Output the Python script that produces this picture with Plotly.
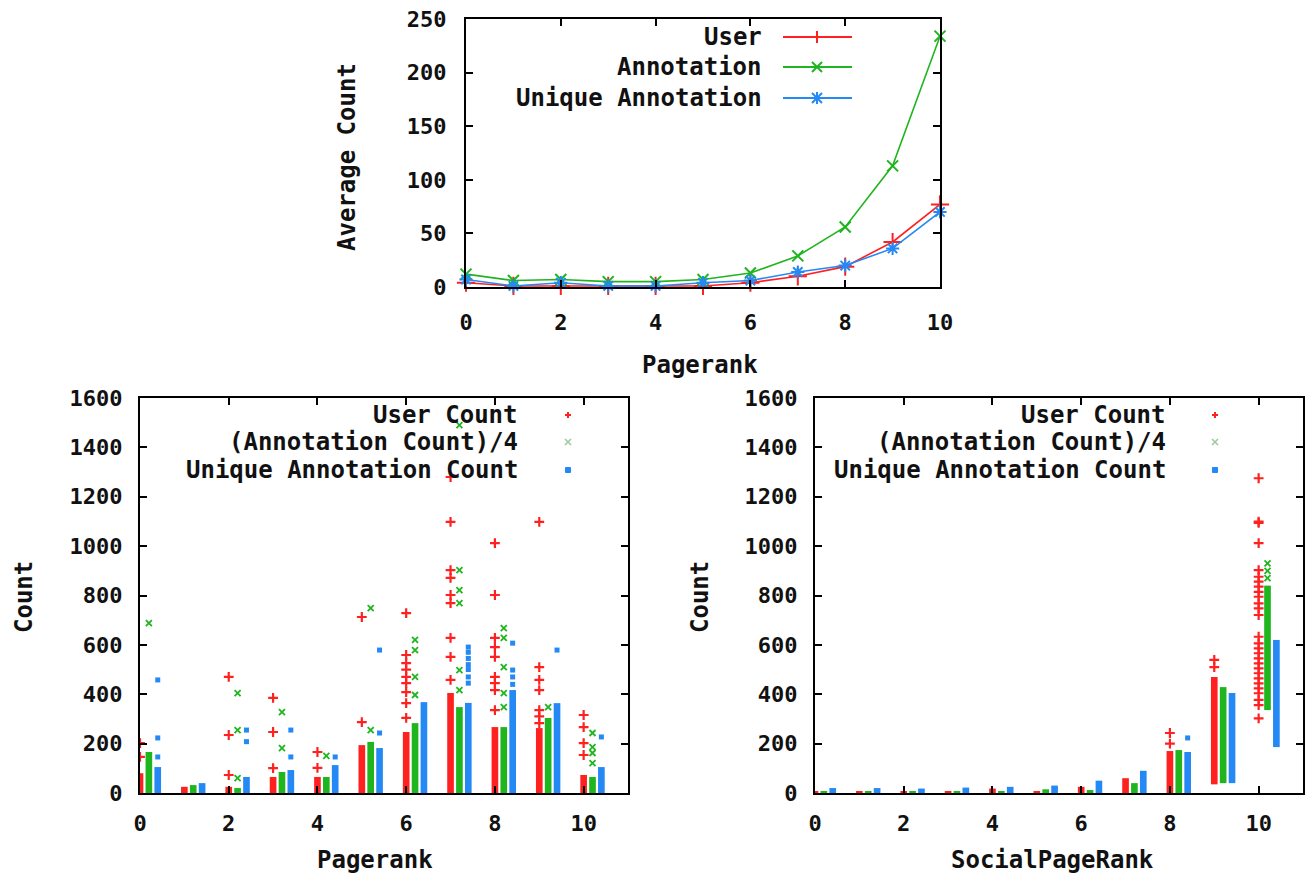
import plotly.graph_objects as go

# ---------------- data ----------------
ranks = [0, 1, 2, 3, 4, 5, 6, 7, 8, 9, 10]
x_ticks = [0, 2, 4, 6, 8, 10]

# top panel: average counts per pagerank
avg_user = [4, 1, 1, 1, 1, 1, 4, 10, 19, 42, 77]
avg_annotation = [12, 6, 7, 5, 5, 7, 13, 29, 56, 113, 234]
avg_unique = [7, 1, 4, 1, 1, 4, 6, 14, 20, 36, 70]

# bottom-left panel (Pagerank): dense column tops (points merge into solid columns from 0)
pr_user_dense = [80, 25, 25, 65, 65, 194, 247, 405, 267, 263, 73]
pr_ann_dense = [166, 32, 20, 85, 65, 207, 283, 348, 267, 304, 65]
pr_uniq_dense = [105, 40, 65, 93, 113, 182, 368, 365, 417, 364, 105]
# isolated points per pagerank
pr_user_pts = [[146, 202], [], [73, 235, 470], [101, 247, 385], [102, 166], [287, 713],
               [304, 364, 409, 445, 470, 500, 526, 559, 729],
               [458, 551, 628, 769, 802, 871, 903, 1098, 1280],
               [336, 417, 445, 470, 551, 591, 628, 802, 1012],
               [283, 310, 336, 417, 458, 510, 1098], [154, 202, 267, 316]]
pr_ann_pts = [[688], [], [60, 255, 405], [182, 328], [150], [255, 749],
              [397, 470, 579, 620], [417, 498, 769, 822, 903, 1490],
              [348, 405, 510, 628, 668], [348], [121, 162, 186, 243]]
pr_uniq_pts = [[146, 223, 458], [], [208, 255], [146, 255], [146], [243, 579], [],
               [445, 470, 500, 520, 545, 570, 591], [440, 470, 498, 607], [579], [227]]

# bottom-right panel (SocialPageRank): dense column ranges (low, high)
spr_user_lo = [0, 0, 0, 0, 0, 0, 0, 0, 0, 35, None]
spr_user_hi = [5, 5, 8, 5, 18, 8, 25, 60, 170, 470, None]
spr_ann_lo = [0, 0, 0, 0, 0, 0, 0, 0, 0, 40, 336]
spr_ann_hi = [8, 8, 5, 6, 8, 15, 12, 40, 174, 429, 840]
spr_uniq_lo = [0, 0, 0, 0, 0, 0, 0, 0, 0, 40, 186]
spr_uniq_hi = [20, 20, 18, 22, 25, 30, 50, 90, 166, 405, 620]
spr_user_pts = [[], [], [], [], [], [], [], [], [200, 243], [510, 539],
                [302, 356, 377, 404, 424, 444, 464, 485, 505, 525, 545, 566, 586, 606, 633,
                 721, 748, 768, 795, 815, 836, 856, 876, 903, 1012, 1094, 1099, 1275]]
spr_ann_pts = [[], [], [], [], [], [], [], [], [], [], [870, 900, 930]]
spr_uniq_pts = [[], [], [], [], [], [], [], [], [223], [], []]

# ---------------- style ----------------
RED = "#ff2020"
GREEN = "#1fb51f"
BLUE = "#2488f5"
FONT = "DejaVu Sans Mono"
TXT = "#111111"
W, H = 1309, 876

fig = go.Figure()

# top panel lines
fig.add_trace(go.Scatter(x=ranks, y=avg_user, mode="lines+markers", name="User",
                         line=dict(color=RED, width=1.6), cliponaxis=False,
                         marker=dict(symbol="cross-thin", size=13, line=dict(color=RED, width=2)),
                         xaxis="x", yaxis="y", showlegend=False))
fig.add_trace(go.Scatter(x=ranks, y=avg_annotation, mode="lines+markers", name="Annotation",
                         line=dict(color=GREEN, width=1.6), cliponaxis=False,
                         marker=dict(symbol="x-thin", size=11, line=dict(color=GREEN, width=2)),
                         xaxis="x", yaxis="y", showlegend=False))
fig.add_trace(go.Scatter(x=ranks, y=avg_unique, mode="lines+markers", name="Unique Annotation",
                         line=dict(color=BLUE, width=1.6), cliponaxis=False,
                         marker=dict(symbol="asterisk", size=11, line=dict(color=BLUE, width=2)),
                         xaxis="x", yaxis="y", showlegend=False))


def flatten(pts, offset):
    xs, ys = [], []
    for r, vals in zip(ranks, pts):
        for v in vals:
            xs.append(r + offset)
            ys.append(v)
    return xs, ys


series_styles = [
    (RED, 0.0, dict(symbol="cross-thin", size=7, line=dict(color=RED, width=2.2))),
    (GREEN, 0.2, dict(symbol="x-thin", size=6, line=dict(color=GREEN, width=1.8))),
    (BLUE, 0.4, dict(symbol="square", size=5, color=BLUE, line=dict(width=0))),
]

# bottom-left panel
for (col, off, mk), dense, pts in zip(series_styles,
                                      [pr_user_dense, pr_ann_dense, pr_uniq_dense],
                                      [pr_user_pts, pr_ann_pts, pr_uniq_pts]):
    fig.add_trace(go.Bar(x=[r + off for r in ranks], y=dense, base=[0] * len(ranks),
                         width=0.15, marker=dict(color=col, line=dict(width=0)),
                         xaxis="x2", yaxis="y2", showlegend=False))
    xs, ys = flatten(pts, off)
    fig.add_trace(go.Scatter(x=xs, y=ys, mode="markers", marker=mk,
                             xaxis="x2", yaxis="y2", showlegend=False))

# bottom-right panel
for (col, off, mk), lo, hi, pts in zip(series_styles,
                                       [spr_user_lo, spr_ann_lo, spr_uniq_lo],
                                       [spr_user_hi, spr_ann_hi, spr_uniq_hi],
                                       [spr_user_pts, spr_ann_pts, spr_uniq_pts]):
    heights = [None if (a is None or b is None) else b - a for a, b in zip(lo, hi)]
    fig.add_trace(go.Bar(x=[r + off for r in ranks], y=heights, base=lo,
                         width=0.15, marker=dict(color=col, line=dict(width=0)),
                         xaxis="x3", yaxis="y3", showlegend=False))
    xs, ys = flatten(pts, off)
    fig.add_trace(go.Scatter(x=xs, y=ys, mode="markers", marker=mk,
                             xaxis="x3", yaxis="y3", showlegend=False))


def px_x(p):
    return p / W


def px_y(p):
    return 1 - p / H


tick_font = dict(family=FONT, size=22, color=TXT, weight="bold")
axis_common = dict(showline=True, linecolor="#000000", linewidth=2, mirror="ticks",
                   ticks="inside", ticklen=7, tickwidth=1.5, tickcolor="#000000",
                   showgrid=False, zeroline=False, tickfont=tick_font, fixedrange=True,
                   automargin=False)

fig.update_layout(
    width=W, height=H, margin=dict(l=0, r=0, t=0, b=0, autoexpand=False),
    paper_bgcolor="white", plot_bgcolor="white", barmode="overlay",
    xaxis=dict(domain=[px_x(466), px_x(940)], anchor="y", range=[0, 10],
               tickvals=x_ticks, ticklabelstandoff=15, **axis_common),
    yaxis=dict(domain=[px_y(287), px_y(19)], anchor="x", range=[0, 250], dtick=50,
               ticklabelstandoff=13, **axis_common),
    xaxis2=dict(domain=[px_x(140), px_x(628)], anchor="y2", range=[0, 11],
                tickvals=x_ticks, ticklabelstandoff=10, **axis_common),
    yaxis2=dict(domain=[px_y(793), px_y(398)], anchor="x2", range=[0, 1600], dtick=200,
                ticklabelstandoff=11, **axis_common),
    xaxis3=dict(domain=[px_x(815), px_x(1303)], anchor="y3", range=[0, 11],
                tickvals=x_ticks, ticklabelstandoff=10, **axis_common),
    yaxis3=dict(domain=[px_y(793), px_y(398)], anchor="x3", range=[0, 1600], dtick=200,
                ticklabelstandoff=11, **axis_common),
)

title_font = dict(family=FONT, size=24, color=TXT, weight="bold")
annotations = []


def text(t, x, y, xanchor="center", angle=0, font=title_font):
    annotations.append(dict(text=t, x=px_x(x), y=px_y(y), xref="paper", yref="paper",
                            xanchor=xanchor, yanchor="middle", showarrow=False,
                            textangle=angle, font=font))


# axis titles
text("Average Count", 347, 157, angle=-90)
text("Pagerank", 700, 365)
text("Count", 24, 597, angle=-90)
text("Count", 700, 597, angle=-90)
text("Pagerank", 375, 860)
text("SocialPageRank", 1052, 860)

# legend texts
top_legend = ["User", "Annotation", "Unique Annotation"]
top_rows = [37, 67, 98]
for t, yy in zip(top_legend, top_rows):
    text(t, 764, yy, xanchor="right")

bottom_legend = ["User Count", "(Annotation Count)/4", "Unique Annotation Count"]
bottom_rows = [415, 442, 470]
for t, yy in zip(bottom_legend, bottom_rows):
    text(t, 520, yy, xanchor="right")
    text(t, 1168, yy, xanchor="right")

shapes = []


def key_line(x0, x1, y, color):
    shapes.append(dict(type="line", xref="paper", yref="paper", x0=px_x(x0), x1=px_x(x1),
                       y0=px_y(y), y1=px_y(y), line=dict(color=color, width=2)))


def key_glyph(cx, cy, path, color, fill=None, width=2):
    shapes.append(dict(type="path", xref="paper", yref="paper", xsizemode="pixel",
                       ysizemode="pixel", xanchor=px_x(cx), yanchor=px_y(cy), path=path,
                       line=dict(color=color, width=width),
                       fillcolor=fill if fill else "rgba(0,0,0,0)"))


PLUS = "M-6,0 L6,0 M0,-6 L0,6"
CROSS = "M-5,-5 L5,5 M-5,5 L5,-5"
STAR = "M-6,0 L6,0 M0,-6 L0,6 M-5,-5 L5,5 M-5,5 L5,-5"
SMALL_PLUS = "M-3,0 L3,0 M0,-3 L0,3"
SMALL_X = "M-3,-3 L3,3 M-3,3 L3,-3"
SQUARE = "M-2.5,-2.5 L2.5,-2.5 L2.5,2.5 L-2.5,2.5 Z"

for color, yy, glyph in zip([RED, GREEN, BLUE], top_rows, [PLUS, CROSS, STAR]):
    key_line(783, 852, yy, color)
    key_glyph(817, yy, glyph, color)

for cx in [568, 1215]:
    key_glyph(cx, bottom_rows[0], SMALL_PLUS, RED, width=2)
    key_glyph(cx, bottom_rows[1], SMALL_X, "#9cc99c", width=1.5)
    key_glyph(cx, bottom_rows[2], SQUARE, BLUE, fill=BLUE, width=1)

fig.update_layout(annotations=annotations, shapes=shapes)

fig.write_html("out.html", config={"displayModeBar": False},
               post_script="document.body.style.margin='0px';"
                           "document.body.style.overflow='hidden';")
